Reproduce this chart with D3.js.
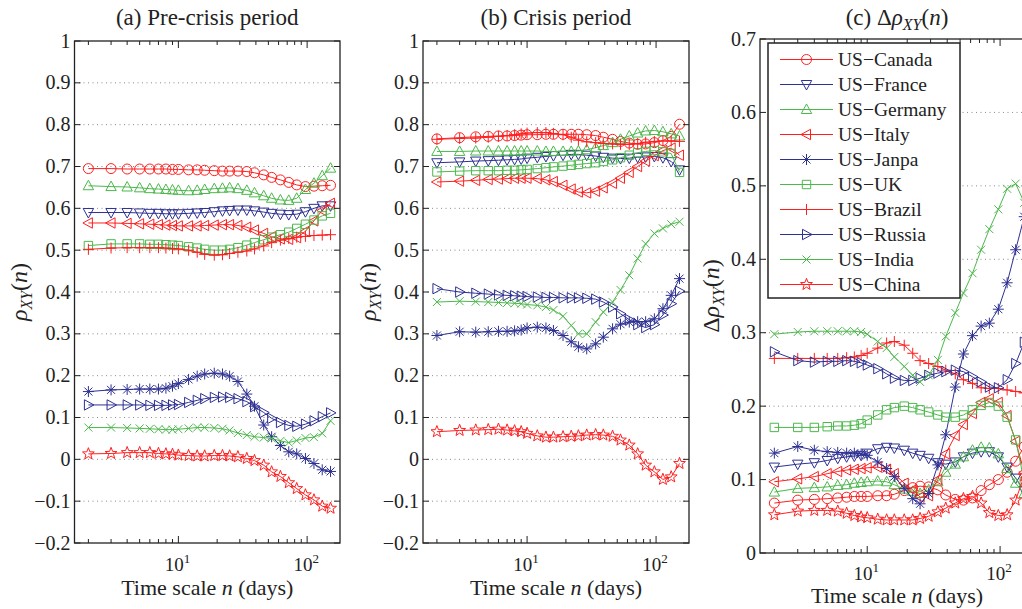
<!DOCTYPE html>
<html><head><meta charset="utf-8">
<script src="https://cdn.jsdelivr.net/npm/d3@7"></script>
<style>
body{margin:0;background:#fff}
svg{display:block}
</style>
</head><body>
<svg id="chart" width="1022" height="609"></svg>
<script>
// ---------------- data ----------------
const countries = ["US\u2212Canada","US\u2212France","US\u2212Germany","US\u2212Italy","US\u2212Janpa","US\u2212UK","US\u2212Brazil","US\u2212Russia","US\u2212India","US\u2212China"];
const seriesColors = ["#ff1f1f","#2e3192","#4cb84c","#ff1f1f","#2e3192","#4cb84c","#ff1f1f","#2e3192","#4cb84c","#ff1f1f"];
const seriesMarkers = ["circle","triDown","triUp","triLeft","asterisk","square","plus","triRight","cross","star"];
const timeScales = [2,3,4,5,6,7,8,9,10,12,14,16,19,22,25,29,34,39,46,53,62,72,83,97,113,131,152];

const preCrisis = [
  [0.695,0.695,0.694,0.694,0.694,0.694,0.694,0.693,0.693,0.692,0.692,0.691,0.690,0.689,0.689,0.689,0.688,0.685,0.680,0.674,0.668,0.662,0.656,0.652,0.653,0.654,0.655],
  [0.590,0.590,0.590,0.589,0.588,0.588,0.587,0.587,0.587,0.588,0.589,0.590,0.592,0.594,0.595,0.596,0.596,0.594,0.591,0.588,0.586,0.585,0.586,0.592,0.600,0.606,0.606],
  [0.654,0.652,0.651,0.649,0.647,0.646,0.645,0.644,0.643,0.642,0.643,0.645,0.647,0.648,0.649,0.647,0.643,0.637,0.630,0.624,0.620,0.619,0.624,0.645,0.660,0.678,0.696],
  [0.565,0.565,0.564,0.563,0.562,0.561,0.560,0.559,0.558,0.558,0.558,0.559,0.560,0.561,0.561,0.559,0.555,0.548,0.540,0.532,0.527,0.526,0.530,0.545,0.570,0.595,0.612],
  [0.162,0.166,0.167,0.168,0.168,0.168,0.170,0.175,0.181,0.191,0.199,0.204,0.206,0.204,0.199,0.186,0.156,0.127,0.082,0.054,0.033,0.018,0.013,0.002,-0.010,-0.025,-0.029],
  [0.511,0.515,0.515,0.515,0.514,0.514,0.513,0.512,0.511,0.508,0.505,0.502,0.500,0.500,0.502,0.506,0.512,0.518,0.525,0.531,0.537,0.543,0.552,0.562,0.572,0.582,0.588],
  [0.502,0.505,0.506,0.506,0.506,0.506,0.505,0.504,0.503,0.500,0.495,0.490,0.488,0.489,0.492,0.495,0.498,0.503,0.510,0.518,0.524,0.528,0.531,0.533,0.535,0.536,0.537],
  [0.130,0.130,0.130,0.130,0.129,0.129,0.129,0.130,0.131,0.136,0.141,0.145,0.148,0.149,0.148,0.145,0.138,0.126,0.112,0.098,0.088,0.081,0.079,0.084,0.092,0.102,0.111],
  [0.076,0.076,0.075,0.074,0.073,0.072,0.071,0.071,0.072,0.074,0.076,0.076,0.075,0.073,0.069,0.063,0.058,0.054,0.052,0.050,0.044,0.040,0.045,0.051,0.053,0.062,0.092],
  [0.013,0.014,0.016,0.016,0.016,0.014,0.013,0.012,0.010,0.009,0.008,0.008,0.009,0.009,0.008,0.006,0.002,-0.003,-0.014,-0.030,-0.041,-0.056,-0.070,-0.085,-0.097,-0.112,-0.117]
];

const crisis = [
  [0.766,0.769,0.771,0.772,0.773,0.773,0.774,0.775,0.776,0.776,0.777,0.777,0.777,0.777,0.777,0.776,0.774,0.770,0.765,0.760,0.756,0.753,0.754,0.757,0.762,0.772,0.801],
  [0.709,0.711,0.713,0.714,0.715,0.716,0.717,0.718,0.720,0.722,0.724,0.726,0.727,0.729,0.729,0.727,0.725,0.722,0.720,0.719,0.720,0.722,0.723,0.724,0.721,0.712,0.692],
  [0.736,0.736,0.737,0.737,0.737,0.737,0.737,0.737,0.737,0.737,0.736,0.736,0.736,0.736,0.737,0.740,0.745,0.750,0.757,0.765,0.773,0.780,0.785,0.786,0.783,0.778,0.773],
  [0.663,0.665,0.667,0.669,0.670,0.671,0.672,0.672,0.672,0.671,0.668,0.664,0.655,0.646,0.639,0.637,0.641,0.649,0.660,0.672,0.686,0.700,0.713,0.726,0.738,0.744,0.727],
  [0.296,0.305,0.304,0.305,0.306,0.306,0.307,0.309,0.314,0.316,0.314,0.308,0.296,0.281,0.269,0.264,0.276,0.292,0.312,0.323,0.328,0.329,0.329,0.336,0.360,0.392,0.432],
  [0.687,0.689,0.690,0.690,0.690,0.691,0.691,0.692,0.693,0.695,0.697,0.699,0.701,0.703,0.705,0.707,0.709,0.712,0.716,0.721,0.727,0.733,0.736,0.738,0.735,0.731,0.686],
  [0.765,0.767,0.768,0.770,0.772,0.774,0.776,0.778,0.780,0.781,0.781,0.779,0.776,0.770,0.763,0.759,0.757,0.755,0.754,0.753,0.753,0.755,0.758,0.760,0.761,0.761,0.760],
  [0.408,0.400,0.397,0.395,0.393,0.392,0.391,0.390,0.389,0.388,0.387,0.387,0.386,0.386,0.386,0.385,0.383,0.376,0.364,0.348,0.334,0.322,0.315,0.322,0.345,0.372,0.402],
  [0.376,0.378,0.377,0.376,0.375,0.374,0.373,0.372,0.370,0.368,0.364,0.357,0.342,0.320,0.300,0.300,0.328,0.352,0.376,0.405,0.440,0.480,0.515,0.540,0.552,0.562,0.568],
  [0.066,0.069,0.070,0.071,0.072,0.070,0.068,0.066,0.062,0.056,0.053,0.053,0.054,0.055,0.056,0.058,0.059,0.058,0.055,0.046,0.034,0.013,-0.014,-0.030,-0.048,-0.042,-0.010]
];

const deltaRho = [
  [0.068,0.072,0.073,0.074,0.075,0.076,0.077,0.077,0.077,0.078,0.078,0.080,0.085,0.089,0.091,0.090,0.086,0.079,0.073,0.072,0.075,0.085,0.093,0.100,0.110,0.125,0.145],
  [0.117,0.121,0.123,0.126,0.129,0.131,0.132,0.133,0.136,0.142,0.144,0.143,0.140,0.136,0.133,0.129,0.123,0.121,0.124,0.131,0.136,0.138,0.138,0.131,0.117,0.102,0.085],
  [0.083,0.088,0.089,0.090,0.092,0.093,0.095,0.096,0.097,0.098,0.097,0.093,0.087,0.084,0.081,0.086,0.097,0.110,0.121,0.131,0.140,0.144,0.143,0.135,0.115,0.095,0.081],
  [0.097,0.101,0.104,0.108,0.111,0.113,0.114,0.115,0.116,0.117,0.114,0.108,0.095,0.086,0.076,0.078,0.100,0.135,0.160,0.175,0.190,0.205,0.210,0.205,0.187,0.152,0.110],
  [0.136,0.145,0.140,0.138,0.137,0.136,0.136,0.135,0.133,0.124,0.115,0.104,0.088,0.074,0.067,0.081,0.120,0.161,0.226,0.271,0.296,0.309,0.313,0.332,0.368,0.413,0.458],
  [0.171,0.171,0.171,0.172,0.173,0.173,0.174,0.176,0.181,0.188,0.195,0.198,0.200,0.198,0.195,0.192,0.188,0.185,0.185,0.188,0.195,0.201,0.205,0.200,0.185,0.154,0.097],
  [0.265,0.265,0.265,0.265,0.265,0.266,0.267,0.269,0.272,0.279,0.286,0.288,0.283,0.272,0.262,0.258,0.254,0.249,0.244,0.236,0.231,0.225,0.224,0.224,0.222,0.220,0.218],
  [0.274,0.262,0.260,0.261,0.261,0.262,0.261,0.259,0.256,0.251,0.244,0.238,0.235,0.235,0.238,0.242,0.245,0.247,0.249,0.247,0.240,0.233,0.226,0.225,0.236,0.258,0.287],
  [0.298,0.301,0.302,0.302,0.302,0.302,0.302,0.301,0.298,0.288,0.279,0.267,0.254,0.242,0.233,0.242,0.263,0.295,0.327,0.354,0.381,0.413,0.441,0.468,0.496,0.503,0.477],
  [0.052,0.057,0.058,0.058,0.057,0.054,0.051,0.049,0.048,0.046,0.045,0.045,0.045,0.045,0.047,0.050,0.056,0.061,0.068,0.074,0.077,0.068,0.055,0.051,0.052,0.072,0.105]
];

const rhoTicks = [-0.2,-0.1,0,0.1,0.2,0.3,0.4,0.5,0.6,0.7,0.8,0.9,1];
const deltaTicks = [0,0.1,0.2,0.3,0.4,0.5,0.6,0.7];
const xMajorTicks = [10,100];
const xMinorTicks = [2,3,4,5,6,7,8,9,20,30,40,50,60,70,80,90];

// ---------------- drawing ----------------
const svg = d3.select("#chart");

function markerPath(type){
  const s = 5;
  switch(type){
    case "circle": return `M${s},0A${s},${s} 0 1,1 ${-s},0A${s},${s} 0 1,1 ${s},0Z`;
    case "triUp": return "M0,-5.5L5.2,4L-5.2,4Z";
    case "triDown": return "M0,5.5L5.2,-4L-5.2,-4Z";
    case "triLeft": return "M-5.5,0L4,-5.2L4,5.2Z";
    case "triRight": return "M5.5,0L-4,-5.2L-4,5.2Z";
    case "square": return "M-4.2,-4.2H4.2V4.2H-4.2Z";
    case "plus": return "M-5.5,0H5.5M0,-5.5V5.5";
    case "cross": return "M-4,-4L4,4M-4,4L4,-4";
    case "asterisk": return "M-5.5,0H5.5M0,-5.5V5.5M-4,-4L4,4M-4,4L4,-4";
    case "star": {
      let p = "";
      for (let i = 0; i < 10; i++){
        const r = i % 2 === 0 ? 6.2 : 2.6;
        const a = -Math.PI/2 + i*Math.PI/5;
        p += (i ? "L" : "M") + (r*Math.cos(a)).toFixed(2) + "," + (r*Math.sin(a)).toFixed(2);
      }
      return p + "Z";
    }
  }
}

function addText(g){
  return g.append("text").style("font-family", '"Liberation Serif"').attr("fill", "#222");
}

function drawPanel(cfg){
  const g = svg.append("g");
  const x = d3.scaleLog().domain([1.56, 180]).range([cfg.x0, cfg.x1]);
  const y = d3.scaleLinear().domain(cfg.yDomain).range([cfg.y1, cfg.y0]);

  g.selectAll("line.grid").data(cfg.yTicks.filter(t => t > cfg.yDomain[0] + 1e-9 && t < cfg.yDomain[1] - 1e-9))
    .enter().append("line")
    .attr("x1", cfg.x0).attr("x2", cfg.x1)
    .attr("y1", d => y(d)).attr("y2", d => y(d))
    .attr("stroke", "#8a8a8a").attr("stroke-width", 1).attr("stroke-dasharray", "1,3.5");

  const lineGen = d3.line().x((d, i) => x(timeScales[i])).y(d => y(d));
  cfg.data.forEach((vals, si) => {
    const col = seriesColors[si];
    g.append("path").attr("d", lineGen(vals)).attr("fill", "none")
      .attr("stroke", col).attr("stroke-width", 1);
    g.selectAll(null).data(vals).enter().append("path")
      .attr("d", markerPath(seriesMarkers[si]))
      .attr("transform", (d, i) => `translate(${x(timeScales[i])},${y(d)})`)
      .attr("fill", "none").attr("stroke", col).attr("stroke-width", 1);
  });

  g.append("rect").attr("x", cfg.x0).attr("y", cfg.y0)
    .attr("width", cfg.x1 - cfg.x0).attr("height", cfg.y1 - cfg.y0)
    .attr("fill", "none").attr("stroke", "#222").attr("stroke-width", 1.3);

  cfg.yTicks.forEach(t => {
    const yy = y(t);
    g.append("line").attr("x1", cfg.x0).attr("x2", cfg.x0 + 6).attr("y1", yy).attr("y2", yy).attr("stroke", "#222");
    g.append("line").attr("x1", cfg.x1).attr("x2", cfg.x1 - 6).attr("y1", yy).attr("y2", yy).attr("stroke", "#222");
    const lbl = t < 0 ? "\u2212" + Math.abs(t) : String(t);
    addText(g).attr("x", cfg.x0 - 4).attr("y", yy + 6.5)
      .attr("text-anchor", "end").attr("font-size", 20).text(lbl);
  });

  xMinorTicks.forEach(t => {
    const xx = x(t);
    g.append("line").attr("x1", xx).attr("x2", xx).attr("y1", cfg.y1).attr("y2", cfg.y1 - 4).attr("stroke", "#222");
    g.append("line").attr("x1", xx).attr("x2", xx).attr("y1", cfg.y0).attr("y2", cfg.y0 + 4).attr("stroke", "#222");
  });
  xMajorTicks.forEach(t => {
    const xx = x(t);
    g.append("line").attr("x1", xx).attr("x2", xx).attr("y1", cfg.y1).attr("y2", cfg.y1 - 7).attr("stroke", "#222");
    g.append("line").attr("x1", xx).attr("x2", xx).attr("y1", cfg.y0).attr("y2", cfg.y0 + 7).attr("stroke", "#222");
    const tx = addText(g).attr("x", xx - 1).attr("y", cfg.y1 + cfg.tickDy)
      .attr("text-anchor", "middle").attr("font-size", 19);
    tx.append("tspan").text("10");
    tx.append("tspan").attr("font-size", 13).attr("dy", -8).text(String(Math.round(Math.log10(t))));
  });

  const xl = addText(g).attr("x", (cfg.x0 + cfg.x1) / 2).attr("y", cfg.y1 + cfg.labelDy)
    .attr("text-anchor", "middle").attr("font-size", 22);
  xl.append("tspan").text("Time scale ");
  xl.append("tspan").attr("font-style", "italic").text("n");
  xl.append("tspan").text(" (days)");

  const cy = (cfg.y0 + cfg.y1) / 2;
  const yl = addText(g).attr("transform", `translate(${cfg.ylx},${cy}) rotate(-90)`)
    .attr("text-anchor", "middle").attr("font-size", 24);
  if (cfg.delta) yl.append("tspan").text("\u0394");
  yl.append("tspan").attr("font-style", "italic").text("\u03c1");
  yl.append("tspan").attr("font-style", "italic").attr("font-size", 16).attr("dy", 5).text("XY");
  yl.append("tspan").attr("dy", -5).text("(");
  yl.append("tspan").attr("font-style", "italic").text("n");
  yl.append("tspan").text(")");

  const tt = addText(g).attr("x", (cfg.x0 + cfg.x1) / 2).attr("y", 25)
    .attr("text-anchor", "middle").attr("font-size", 23);
  if (cfg.delta) {
    tt.append("tspan").text("(c) \u0394");
    tt.append("tspan").attr("font-style", "italic").text("\u03c1");
    tt.append("tspan").attr("font-style", "italic").attr("font-size", 16).attr("dy", 5).text("XY");
    tt.append("tspan").attr("dy", -5).text("(");
    tt.append("tspan").attr("font-style", "italic").text("n");
    tt.append("tspan").text(")");
  } else {
    tt.text(cfg.title);
  }
  return g;
}

drawPanel({x0: 74.5, x1: 340, y0: 41, y1: 543, yDomain: [-0.2, 1], yTicks: rhoTicks,
  data: preCrisis, title: "(a) Pre-crisis period", ylx: 27, tickDy: 28, labelDy: 52});
drawPanel({x0: 423, x1: 689, y0: 41, y1: 543, yDomain: [-0.2, 1], yTicks: rhoTicks,
  data: crisis, title: "(b) Crisis period", ylx: 376, tickDy: 28, labelDy: 52});
drawPanel({x0: 760, x1: 1034, y0: 39, y1: 553, yDomain: [0, 0.7], yTicks: deltaTicks,
  data: deltaRho, delta: true, ylx: 719, tickDy: 27, labelDy: 50});

const lg = svg.append("g");
lg.append("rect").attr("x", 768).attr("y", 43).attr("width", 192).attr("height", 255)
  .attr("fill", "#fff").attr("stroke", "#222").attr("stroke-width", 1.5);
countries.forEach((name, i) => {
  const yy = 59.5 + i * 25;
  lg.append("line").attr("x1", 780).attr("x2", 833).attr("y1", yy).attr("y2", yy)
    .attr("stroke", seriesColors[i]).attr("stroke-width", 1);
  lg.append("path").attr("d", markerPath(seriesMarkers[i])).attr("transform", `translate(806.5,${yy})`)
    .attr("fill", "none").attr("stroke", seriesColors[i]).attr("stroke-width", 1);
  addText(lg).attr("x", 838).attr("y", yy + 6.5).attr("font-size", 19.5).text(name);
});
</script>
</body></html>
